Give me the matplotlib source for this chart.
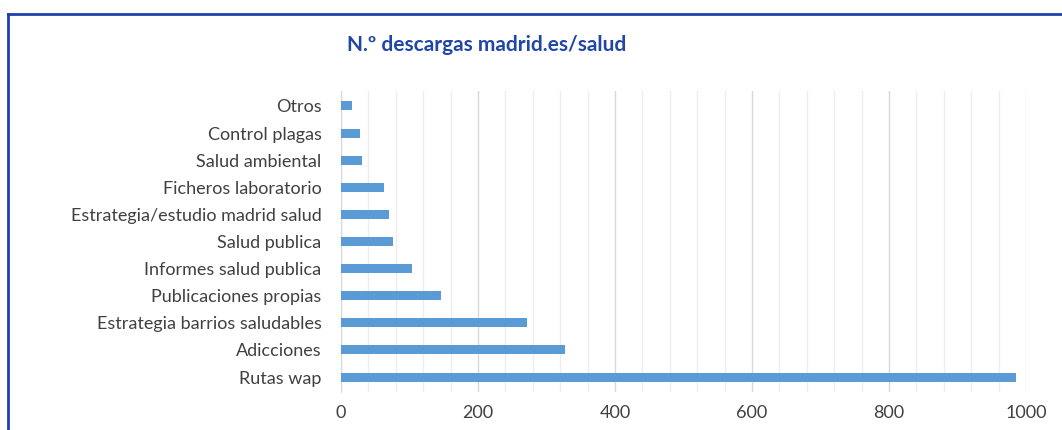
import matplotlib.pyplot as plt
import numpy as np
from matplotlib.lines import Line2D

# Data, top to bottom
categories = ['Otros', 'Control plagas', 'Salud ambiental', 'Ficheros laboratorio',
              'Estrategia/estudio madrid salud', 'Salud publica', 'Informes salud publica',
              'Publicaciones propias', 'Estrategia barrios saludables', 'Adicciones', 'Rutas wap']
downloads = [16, 28, 30, 63, 70, 76, 103, 146, 272, 327, 985]

x_ticks = [0, 200, 400, 600, 800, 1000]
title = 'N.º descargas madrid.es/salud'


def main():
    plt.rcParams['font.family'] = ['Lato', 'DejaVu Sans']

    fig = plt.figure(figsize=(10.62, 4.30), dpi=100)
    ax = fig.add_axes([341 / 1062, 1 - 392 / 430, 685 / 1062, 301 / 430])

    # Bars: first category at the top
    y = np.arange(len(categories))[::-1]
    ax.barh(y, downloads, height=0.33, color='#5B9BD5', zorder=3)

    ax.set_xlim(0, 1000)
    ax.set_ylim(-0.55, len(categories) - 0.45)
    ax.set_yticks(y)
    ax.set_yticklabels(categories, fontsize=13, color='#404040')
    ax.set_xticks(x_ticks)
    ax.set_xticklabels([str(t) for t in x_ticks], fontsize=13, color='#404040')
    ax.set_xticks(np.arange(0, 1001, 40), minor=True)

    # Gridlines: light minor every 40, slightly darker major every 200
    ax.grid(axis='x', which='minor', color='#EDEDED', linewidth=1, zorder=0)
    ax.grid(axis='x', which='major', color='#D9D9D9', linewidth=1, zorder=1)
    ax.tick_params(axis='both', which='both', length=0)
    ax.tick_params(axis='x', pad=9)
    ax.tick_params(axis='y', pad=14)

    for side in ['top', 'right', 'bottom']:
        ax.spines[side].set_visible(False)
    ax.spines['left'].set_color('#D9D9D9')

    # Title
    fig.text(487 / 1062, 1 - 45 / 430, title, ha='center', va='center',
             fontsize=15, fontweight='bold', color='#2046A6')

    # Blue frame (top and left edges visible, rest cropped)
    fig.add_artist(Line2D([8 / 1062, 1], [1 - 14 / 430, 1 - 14 / 430],
                          transform=fig.transFigure, color='#1F3FAA', linewidth=2))
    fig.add_artist(Line2D([8 / 1062, 8 / 1062], [0, 1 - 14 / 430],
                          transform=fig.transFigure, color='#1F3FAA', linewidth=2))

    fig.savefig('out.png', dpi=100, facecolor='white')


if __name__ == "__main__":
    main()
